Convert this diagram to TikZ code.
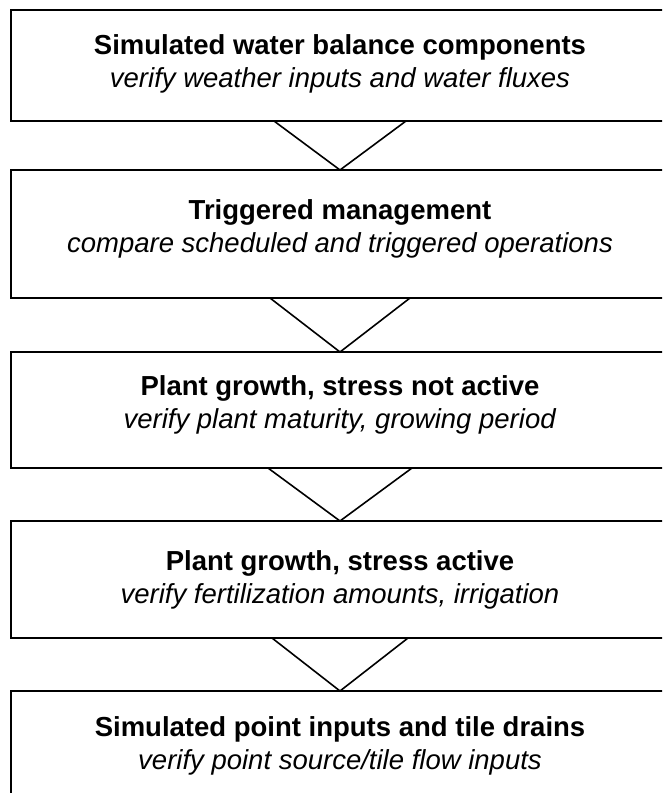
\documentclass[tikz,border=0pt]{standalone}
\usepackage{fontspec}
\setmainfont{Liberation Sans}
\begin{document}
\begin{tikzpicture}[x=1pt,y=1pt,
  stagebox/.style={draw=black,line width=1.8pt,anchor=north west,minimum width=658pt,inner sep=0pt,outer sep=0pt},
  stagetext/.style={align=center,inner sep=0pt,font=\fontsize{27.5}{33}\selectfont},
  chev/.style={line width=1.6pt,line join=miter}]
\useasboundingbox (0,0) rectangle (662,-793);
\clip (0,0) rectangle (662,-793);
\node[stagebox,minimum height=111pt] (b1) at (11,-10) {};
\node[stagebox,minimum height=128pt] (b2) at (11,-170) {};
\node[stagebox,minimum height=116pt] (b3) at (11,-352) {};
\node[stagebox,minimum height=117pt] (b4) at (11,-521) {};
\node[stagebox,minimum height=125pt] (b5) at (11,-691) {};
\node[stagetext] (t1) at (340,-64) {\textbf{Simulated water balance components}\\\textit{verify weather inputs and water fluxes}};
\node[stagetext] (t2) at (340,-229) {\textbf{Triggered management}\\\textit{compare scheduled and triggered operations}};
\node[stagetext] (t3) at (340,-405) {\textbf{Plant growth, stress not active}\\\textit{verify plant maturity, growing period}};
\node[stagetext] (t4) at (340,-580) {\textbf{Plant growth, stress active}\\\textit{verify fertilization amounts, irrigation}};
\node[stagetext] (t5) at (340,-746) {\textbf{Simulated point inputs and tile drains}\\\textit{verify point source/tile flow inputs}};
\draw[chev] ([xshift=-66pt]b1.south) -- (b2.north) -- ([xshift=66pt]b1.south);
\draw[chev] ([xshift=-70pt]b2.south) -- (b3.north) -- ([xshift=70pt]b2.south);
\draw[chev] ([xshift=-72pt]b3.south) -- (b4.north) -- ([xshift=72pt]b3.south);
\draw[chev] ([xshift=-68pt]b4.south) -- (b5.north) -- ([xshift=68pt]b4.south);
\end{tikzpicture}
\end{document}
